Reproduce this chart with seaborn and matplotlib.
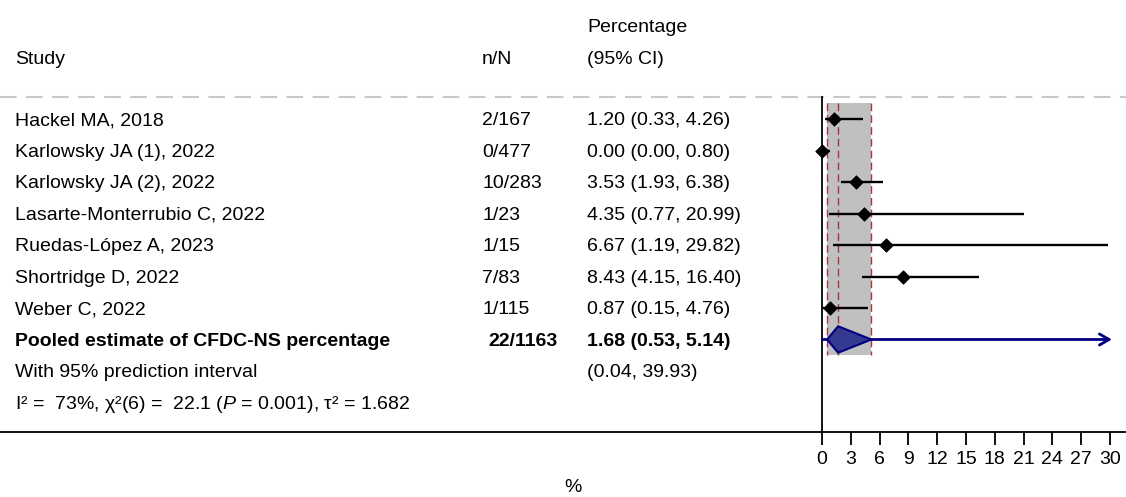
import numpy as np
import pandas as pd
import matplotlib
matplotlib.use("Agg")
import matplotlib.pyplot as plt
from matplotlib.patches import Polygon
import seaborn as sns

# ---- data ----
studies = [
    "Hackel MA, 2018",
    "Karlowsky JA (1), 2022",
    "Karlowsky JA (2), 2022",
    "Lasarte-Monterrubio C, 2022",
    "Ruedas-López A, 2023",
    "Shortridge D, 2022",
    "Weber C, 2022",
]
n_events = [2, 0, 10, 1, 1, 7, 1]
n_total = [167, 477, 283, 23, 15, 83, 115]
est = [1.20, 0.00, 3.53, 4.35, 6.67, 8.43, 0.87]
ci_lo = [0.33, 0.00, 1.93, 0.77, 1.19, 4.15, 0.15]
ci_hi = [4.26, 0.80, 6.38, 20.99, 29.82, 16.40, 4.76]

pooled_label = "Pooled estimate of CFDC-NS percentage"
pooled = [1.68, 0.53, 5.14]
pred = [0.04, 39.93]
het_text = r"I² =  73%, χ²(6) =  22.1 ($\it{P}$ = 0.001), τ² = 1.682"
xticks = [0, 3, 6, 9, 12, 15, 18, 21, 24, 27, 30]

df = pd.DataFrame({
    "study": studies, "n": n_events, "N": n_total,
    "est": est, "lo": ci_lo, "hi": ci_hi,
})
df["row"] = np.arange(len(df))

sns.set_style("white")
plt.rcParams["font.family"] = ["Liberation Sans", "DejaVu Sans"]
plt.rcParams["mathtext.fontset"] = "custom"
plt.rcParams["mathtext.it"] = "Liberation Sans:italic"
plt.rcParams["mathtext.rm"] = "Liberation Sans"
plt.rcParams["text.color"] = "black"
plt.rcParams["xtick.color"] = "black"
plt.rcParams["xtick.labelcolor"] = "black"

W, H = 1126, 497
ROW0, STEP = 119, 31.5   # pixel centre of first row, row spacing


def prow(py):
    return (py - ROW0) / STEP


ylim = (prow(H), prow(0))
FS = 14
DY = 0.05  # nudge text down a touch to sit on the row centre
n_rows = len(df)
pool_row = n_rows
pred_row = n_rows + 1
het_row = n_rows + 2

fig = plt.figure(figsize=(W / 100, H / 100), dpi=100)

# text layer in pixel x / row y
ax_t = fig.add_axes([0, 0, 1, 1])
ax_t.set_xlim(0, W)
ax_t.set_ylim(*ylim)
ax_t.axis("off")

# forest panel
x0_px, px_per_unit = 822, 9.6
ax = fig.add_axes([x0_px / W, 0, (W - x0_px) / W, 1])
ax.set_xlim(0, (W - x0_px) / px_per_unit)
ax.set_ylim(*ylim)
ax.patch.set_alpha(0)

# headers
ax_t.text(15, prow(59), "Study", fontsize=FS, va="center")
ax_t.text(482, prow(59), "n/N", fontsize=FS, va="center")
ax_t.text(587, prow(27), "Percentage", fontsize=FS, va="center")
ax_t.text(587, prow(59), "(95% CI)", fontsize=FS, va="center")
ax_t.plot([0, W], [prow(97)] * 2, color="#c8c8c8", lw=1.5, dashes=(8, 4.5))

# study rows
for _, r in df.iterrows():
    y = r["row"] + DY
    ax_t.text(15, y, r["study"], fontsize=FS, va="center")
    ax_t.text(482, y, f"{r['n']}/{r['N']}", fontsize=FS, va="center")
    ax_t.text(587, y, f"{r['est']:.2f} ({r['lo']:.2f}, {r['hi']:.2f})",
              fontsize=FS, va="center")

ax_t.text(15, pool_row + DY, pooled_label, fontsize=FS, va="center", fontweight="bold")
ax_t.text(488, pool_row + DY, f"{sum(n_events)}/{sum(n_total)}", fontsize=FS,
          va="center", fontweight="bold")
ax_t.text(587, pool_row + DY, f"{pooled[0]:.2f} ({pooled[1]:.2f}, {pooled[2]:.2f})",
          fontsize=FS, va="center", fontweight="bold")
ax_t.text(15, pred_row + DY, "With 95% prediction interval", fontsize=FS, va="center")
ax_t.text(587, pred_row + DY, f"({pred[0]:.2f}, {pred[1]:.2f})", fontsize=FS, va="center")
ax_t.text(15, het_row + DY, het_text, fontsize=FS, va="center")

# bottom rule and axis title
ax_t.plot([0, W], [prow(432)] * 2, color="black", lw=1.3)
ax_t.text(573, prow(487), "%", fontsize=FS, va="center", ha="center")

# pooled CI band + dashed reference lines
band_top, band_bot = -0.5, pool_row + 0.5
ax.fill_betweenx([band_top, band_bot], pooled[1], pooled[2], color="#c0c0c0", lw=0, zorder=0)
for xv in pooled:
    ax.plot([xv, xv], [band_top, band_bot], color="#a8343f", lw=1.0,
            dashes=(5.5, 3), zorder=1)

# study CIs and point estimates
ax.hlines(df["row"], df["lo"], df["hi"], color="black", lw=1.7, zorder=3)
sns.scatterplot(data=df, x="est", y="row", marker="D", s=48, color="black",
                edgecolor="black", linewidth=0.5, ax=ax, zorder=4, clip_on=False,
                legend=False)

# prediction interval (truncated at axis end) and pooled diamond
ax.annotate("", xy=(30.2, pool_row), xytext=(pred[0], pool_row),
            arrowprops=dict(arrowstyle="->,head_length=0.7,head_width=0.4",
                            color="#000080", lw=2, shrinkA=0, shrinkB=0), zorder=5)
h = 0.42
diamond = Polygon([[pooled[1], pool_row], [pooled[0], pool_row - h],
                   [pooled[2], pool_row], [pooled[0], pool_row + h]],
                  closed=True, facecolor="#333a8f", edgecolor="#000080", lw=1.5, zorder=6)
ax.add_patch(diamond)

# axes styling
for side in ["top", "right"]:
    ax.spines[side].set_visible(False)
ax.spines["left"].set_position(("data", 0))
ax.spines["left"].set_bounds(prow(97), prow(432))
ax.spines["left"].set_linewidth(1.3)
ax.spines["left"].set_color("black")
ax.spines["bottom"].set_position(("data", prow(432)))
ax.spines["bottom"].set_visible(False)
ax.set_yticks([])
ax.set_xticks(xticks)
ax.set_xticklabels([str(t) for t in xticks], fontsize=FS)
ax.tick_params(axis="x", direction="out", length=9, width=1.3, color="black", pad=5,
               bottom=True)
ax.set_xlabel("")
ax.set_ylabel("")

fig.savefig("out.png", dpi=100)
